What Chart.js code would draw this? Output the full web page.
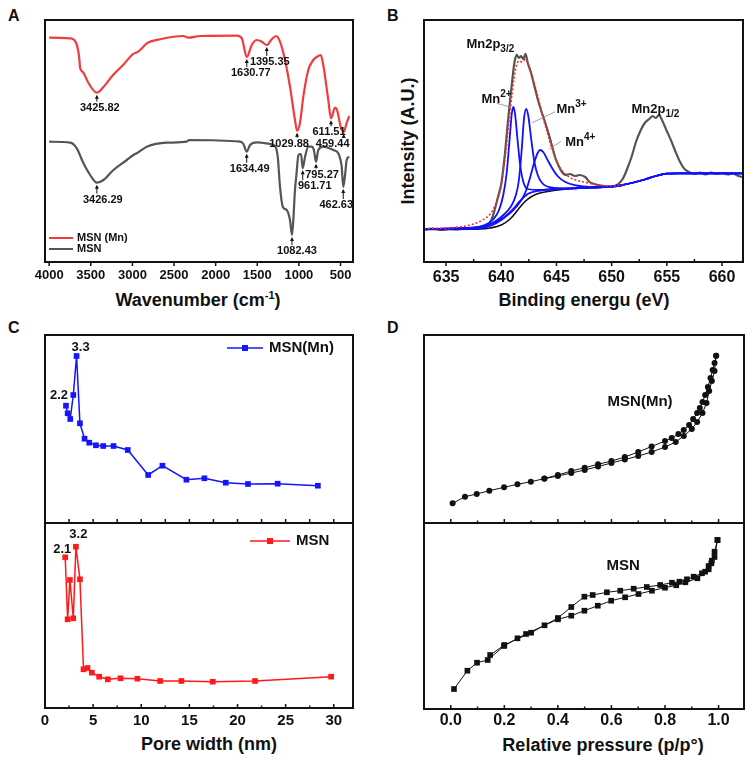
<!DOCTYPE html>
<html>
<head>
<meta charset="utf-8">
<title>MSN characterisation</title>
<script src="https://cdn.jsdelivr.net/npm/chart.js@4.4.1/dist/chart.umd.min.js"></script>
<style>
  body { margin: 0; width: 753px; height: 761px; background: #fff; position: relative; overflow: hidden;
         font-family: "Liberation Sans", Arial, sans-serif; color: #111; }
  canvas { position: absolute; }
  .lbl { position: absolute; font-weight: bold; white-space: nowrap; line-height: 1; }
  .mid { transform: translateX(-50%); }
</style>
</head>
<body>
<div class="lbl" style="left:8px;top:8px;font-size:16px">A</div>
<div class="lbl" style="left:387px;top:8px;font-size:16px">B</div>
<div class="lbl" style="left:8px;top:320px;font-size:16px">C</div>
<div class="lbl" style="left:387px;top:320px;font-size:16px">D</div>
<div class="lbl mid" style="left:198px;top:290px;font-size:18px">Wavenumber (cm<sup style="font-size:11px">-1</sup>)</div>
<div class="lbl mid" style="left:584px;top:291px;font-size:18px">Binding energu (eV)</div>
<div class="lbl" style="left:408px;top:141px;font-size:18px;transform:translate(-50%,-50%) rotate(-90deg)">Intensity (A.U.)</div>
<div class="lbl mid" style="left:209px;top:735px;font-size:18px">Pore width (nm)</div>
<div class="lbl mid" style="left:603px;top:736px;font-size:18px">Relative pressure (p/p°)</div>

<script>
// ---------- A: FTIR (transmittance, arbitrary units) ----------
var aRedWn = [4000,3748,3676,3640,3628,3595,3528,3427,3348,3232,3112,2992,2932,2907,2827,2667,2391,2328,2187,1746,1686,1626,1566,1506,1446,1386,1326,1275,1227,1167,1107,1047,1022,987,947,887,827,767,738,707,647,614,566,542,494,462,426,395];
var aRedT  = [224.3,223.7,219,205,194,190,179,169.3,175,187,197,208,210.3,212,218.7,222.7,226,224.3,226,226.3,223.7,205,217,222,220.3,217,222.7,226,220.3,202,175.3,142,131.3,139,165.3,192,202,206,207,197,162,143.7,154.3,152,134,130,139,146];
var aGrayWn = [4000,3748,3668,3588,3508,3427,3348,3228,3067,2988,2947,2827,2587,2347,2320,1707,1667,1627,1587,1506,1347,1287,1254,1227,1194,1146,1107,1083,1067,1047,1030,1005,975,954,926,887,846,820,794,767,707,587,527,486,467,445,426,395];
var aGrayT  = [120.3,119.3,113.7,98.7,87,79.3,82,92,102,107,108.7,115.3,119.3,120.3,122,120.3,118,110.3,117,119.7,118,116,105.3,75.3,55.3,52,42,27,42,72,87,107,108,93.7,105.3,115.3,115.3,112,100.3,112,115.3,112,108.7,95.3,75,87,102,105.3];
var aRedPeakIdx = [7, 21, 25, 32, 41, 45];
var aRedPeakText = ['3425.82', '1630.77', '1395.35', '1029.88', '611.51', '459.44'];
var aGrayPeakIdx = [5, 17, 27, 33, 38, 44];
var aGrayPeakText = ['3426.29', '1634.49', '1082.43', '961.71', '795.27', '462.63'];
var aTicks = [500, 1000, 1500, 2000, 2500, 3000, 3500, 4000];

// ---------- B: Mn 2p XPS ----------
var bRawE = [633.0,633.8,634.5,635.3,636.0,636.8,637.5,638.2,638.7,639.1,639.4,639.7,640.0,640.3,640.6,640.8,641.0,641.2,641.4,641.6,641.8,642.0,642.2,642.4,642.7,643.0,643.3,643.6,643.9,644.3,644.6,644.9,645.2,645.5,645.8,646.2,646.7,647.1,647.6,648.0,648.4,648.8,649.2,649.7,650.2,650.6,651.0,651.4,651.8,652.2,652.6,653.0,653.4,653.7,654.0,654.3,654.6,655.0,655.4,655.8,656.2,656.6,657.0,657.5,658.0,658.5,659.0,659.5,660.0,660.5,661.0,661.5,661.8];
var bRawI = [32,33.5,32,33,32.5,33.5,33,34,36,42,52,65,78,105,140,162,182,200,207,204,206,203,208,199,189,176,163,152,142,128,116,104,96,90,87,88,86,87,85,80,78,77,76,75,76,78,83,93,105,120,131,139,143,146,144,147,141,131,121,110,100,93,90,88,89.5,87.5,89.5,88,89,87.5,88.5,86,85];
var bFitE = [633,635,636.5,637.5,638.3,639,639.5,639.9,640.3,640.7,641.0,641.3,641.6,641.9,642.2,642.5,642.8,643.2,643.7,644.2,644.7,645.2,645.8,646.5,647.5,648.5,650,651];
var bFitI = [33.5,34,35.5,38,42,48,58,72,100,140,170,193,201,200,203,196,186,170,148,128,110,96,88,83,80,77.5,76,77];
var bMn2E = [633,637,638.5,639.3,639.8,640.2,640.5,640.75,640.95,641.1,641.25,641.45,641.7,642.0,642.4,643.5,645,647,650,651,652,653,654,655,656,661.8];
var bMn2I = [33,34,37,43,52,68,90,122,148,155,148,125,98,80,73,72,73,74,75.5,77,79.5,82.5,86,88.3,88.7,88.7];
var bMn3E = [633,637,638.5,639.5,640.3,640.9,641.3,641.6,641.85,642.05,642.25,642.45,642.7,643.0,643.3,643.7,644.5,646,648,650,651,652,653,654,655,656,661.8];
var bMn3I = [33,34,36,41,48,56,66,82,112,142,153,146,124,100,87,79,74.5,73.5,74.5,75.5,77,79.5,82.5,86,88.3,88.7,88.7];
var bMn4E = [633,637,638.5,639.5,640.3,641,641.7,642.2,642.6,643.0,643.3,643.5,643.8,644.2,644.6,645.1,645.8,646.8,648,650,651,652,653,654,655,656,661.8];
var bMn4I = [33,34,36,40,45,51,60,70,84,100,109,112,110,102,94,86,80,76.5,75,75.5,77,79.5,82.5,86,88.3,88.7,88.7];
var bBaseE = [633,638,639,640,641,641.7,642.4,643.5,645,647,650,651,652,653,654,655,656,661.8];
var bBaseI = [33,33.5,36,42,52,61,68,71.5,73,74,75.5,77,79.5,82.5,86,88.3,88.7,88.7];
var bShirE = [633,638,639,640,640.8,641.5,642.2,643,644.5,646.5,648.5,650];
var bShirI = [32.5,33,34,37,43,52,61,67,71,73.5,74.5,75];
var bMajor = [635, 640, 645, 650, 655, 660];
var bMinor = [637.5, 642.5, 647.5, 652.5, 657.5];

// ---------- C: pore size distribution ----------
var cMnW = [2.18,2.35,2.62,2.94,3.28,3.63,4.11,4.6,5.29,6.05,7.12,8.6,10.72,12.2,14.69,16.56,18.78,21.09,24.17,28.35];
var cMnV = [117.3,109.7,104,128,167,99.7,84.3,80.3,77.7,77,77,73,48,57.3,43.3,44.7,40.3,39,39.3,37.3];
var cW = [2.1,2.35,2.59,2.94,3.21,3.63,4.0,4.42,4.87,5.63,6.53,7.84,9.6,11.96,14.17,17.43,21.82,29.73];
var cV = [150.7,88.7,128,89.7,161.3,128.7,38.7,40,35.3,31.3,28.7,29.7,29.3,27,27,26.3,27,31.3];
var cMajor = [0, 5, 10, 15, 20, 25, 30];
var cMinor = [2.5, 7.5, 12.5, 17.5, 22.5, 27.5];

// ---------- D: N2 isotherms ----------
var dMnAdsP = [0.007,0.053,0.097,0.144,0.199,0.249,0.299,0.349,0.40,0.45,0.50,0.55,0.60,0.65,0.70,0.75,0.80,0.84,0.87,0.90,0.92,0.94,0.955,0.965,0.975,0.985,0.991];
var dMnAdsV = [19.7,26.3,29,32.3,35.7,38.7,41.3,44.3,47,50,53,56.5,60,63.5,67,71,76,81,87,94,101,110,120,132,142,152,167.3];
var dMnDesP = [0.991,0.985,0.978,0.97,0.96,0.95,0.94,0.93,0.92,0.905,0.89,0.87,0.85,0.825,0.80,0.75,0.70,0.65,0.60,0.55,0.50,0.45,0.40,0.35];
var dMnDesV = [167.3,160,153,145,136,128,121,115,110,104,98,93,89,85,82,76.5,71,66,62,58.7,55.3,52,48,44.5];
var dAdsP = [0.012,0.062,0.098,0.138,0.199,0.249,0.281,0.35,0.40,0.45,0.499,0.549,0.599,0.651,0.701,0.751,0.80,0.842,0.876,0.921,0.95,0.963,0.975,0.985,0.996];
var dAdsV = [20,38.3,46.3,49,63,70.7,75,83.7,89.7,93.3,98.3,103.3,108.3,111.7,115,118.3,121.3,123.7,126.7,130.7,137.3,139.7,148.3,157.3,169];
var dDesP = [0.996,0.985,0.973,0.963,0.938,0.907,0.882,0.854,0.826,0.782,0.732,0.683,0.633,0.583,0.53,0.499,0.45,0.40,0.30,0.20,0.147];
var dDesV = [169,152,145.7,143,135.7,132.3,129.7,127.3,126.3,124,122,120.3,118.3,116.7,114,112.3,102,91,76.3,64,54];
var dMajor = [0, 0.2, 0.4, 0.6, 0.8, 1.0];
var dMinor = [0.1, 0.3, 0.5, 0.7, 0.9];

// ---------- helpers ----------
var FONT = '"Liberation Sans", Arial, sans-serif';
var M = 20;

function pts(xs, ys) {
  return xs.map(function (x, i) { return { x: x, y: ys[i] }; });
}

function panel(box, strip, config) {
  var cv = document.createElement('canvas');
  var w = box.w + 2 * M, h = box.h + M + (strip || M);
  cv.width = w; cv.height = h;
  cv.style.left = (box.x - M) + 'px';
  cv.style.top = (box.y - M) + 'px';
  cv.style.width = w + 'px';
  cv.style.height = h + 'px';
  document.body.appendChild(cv);
  return new Chart(cv, config);
}

function opts(xs, ys, strip) {
  return {
    responsive: false, animation: false, devicePixelRatio: 1,
    layout: { padding: { left: M, right: M, top: M, bottom: strip ? 0 : M } },
    plugins: { legend: { display: false }, tooltip: { enabled: false } },
    scales: {
      x: Object.assign({
        type: 'linear', display: !!strip,
        grid: { display: false, drawTicks: false }, border: { display: false },
        afterFit: function (s) { s.height = strip; }
      }, xs),
      y: Object.assign({ type: 'linear', display: false }, ys)
    }
  };
}

// labelled ticks are fixed to the listed values
function labelled(values, size, pad, fmt) {
  return {
    afterBuildTicks: function (s) { s.ticks = values.map(function (v) { return { value: v }; }); },
    ticks: {
      autoSkip: false, maxRotation: 0, padding: pad, color: '#111',
      font: { family: FONT, size: size, weight: 'bold' },
      callback: fmt || function (v) { return String(v); }
    }
  };
}

// frame box plus tick marks; out=true draws below the bottom edge
function frame(marks) {
  return {
    id: 'frame',
    afterDraw: function (chart) {
      var a = chart.chartArea, ctx = chart.ctx, sx = chart.scales.x;
      ctx.save();
      ctx.strokeStyle = '#111';
      ctx.lineWidth = 1.5;
      marks.forEach(function (m) {
        m.at.forEach(function (v) {
          var x = sx.getPixelForValue(v);
          ctx.beginPath();
          ctx.moveTo(x, a.bottom);
          ctx.lineTo(x, a.bottom + (m.out ? m.len : -m.len));
          ctx.stroke();
        });
      });
      ctx.lineWidth = 2;
      ctx.strokeRect(a.left, a.top, a.right - a.left, a.bottom - a.top);
      ctx.restore();
    }
  };
}

function richText(ctx, x, y, parts, size) {
  var cx = x;
  parts.forEach(function (p) {
    var s = p[1] ? Math.round(size * 0.75) : size;
    ctx.font = 'bold ' + s + 'px ' + FONT;
    var dy = p[1] === 'sup' ? -size * 0.43 : (p[1] === 'sub' ? size * 0.3 : 0);
    ctx.fillText(p[0], cx, y + dy);
    cx += ctx.measureText(p[0]).width;
  });
}

// ---------- A ----------
var aRedOff = [[3, 15], [4, 16], [3, 17], [-8, 13], [-2, 14], [-11, 12]];
var aGrayOff = [[6, 17], [3, 17], [5, 16], [12, 18], [6, 13], [-7, 18]];

var aNotes = {
  id: 'aNotes',
  afterDatasetsDraw: function (chart) {
    var ctx = chart.ctx, a = chart.chartArea;
    ctx.save();
    ctx.fillStyle = '#111'; ctx.strokeStyle = '#111'; ctx.lineWidth = 1;
    function draw(ds, idx, texts, off) {
      var pts = chart.getDatasetMeta(ds).data;
      idx.forEach(function (k, j) {
        var p = pts[k], dx = off[j][0], dy = off[j][1];
        ctx.beginPath(); ctx.moveTo(p.x, p.y + 4); ctx.lineTo(p.x, p.y + Math.max(dy - 6, 5)); ctx.stroke();
        ctx.beginPath(); ctx.moveTo(p.x, p.y + 2); ctx.lineTo(p.x - 2, p.y + 6); ctx.lineTo(p.x + 2, p.y + 6); ctx.fill();
        ctx.font = 'bold 11px ' + FONT;
        ctx.textAlign = 'center'; ctx.textBaseline = 'middle';
        ctx.fillText(texts[j], p.x + dx, p.y + dy);
      });
    }
    draw(0, aRedPeakIdx, aRedPeakText, aRedOff);
    draw(1, aGrayPeakIdx, aGrayPeakText, aGrayOff);
    // legend
    var rows = [['MSN (Mn)', '#f03c3c', 24], ['MSN', '#555555', 13]];
    rows.forEach(function (r) {
      var y = a.bottom - r[2];
      ctx.strokeStyle = r[1]; ctx.lineWidth = 2;
      ctx.beginPath(); ctx.moveTo(a.left + 4, y); ctx.lineTo(a.left + 28, y); ctx.stroke();
      ctx.fillStyle = '#111'; ctx.font = 'bold 11px ' + FONT;
      ctx.textAlign = 'left'; ctx.textBaseline = 'middle';
      ctx.fillText(r[0], a.left + 32, y);
    });
    ctx.restore();
  }
};

panel({ x: 45, y: 20, w: 308, h: 242 }, 25, {
  type: 'scatter',
  data: {
    datasets: [
      { label: 'MSN (Mn)', data: pts(aRedWn, aRedT), showLine: true, borderColor: '#f03c3c', borderWidth: 2.2, pointRadius: 0, cubicInterpolationMode: 'monotone' },
      { label: 'MSN', data: pts(aGrayWn, aGrayT), showLine: true, borderColor: '#555555', borderWidth: 2.2, pointRadius: 0, cubicInterpolationMode: 'monotone' }
    ]
  },
  options: opts(Object.assign({ min: 350, max: 4050, reverse: true }, labelled(aTicks, 13, 6)), { min: 0, max: 242 }, 25),
  plugins: [frame([{ at: aTicks, len: 4, out: true }]), aNotes]
});

// ---------- B ----------
var bLabels = [
  { x: 636.84, y: 214, parts: [['Mn2p', ''], ['3/2', 'sub']] },
  { x: 638.2, y: 159, parts: [['Mn', ''], ['2+', 'sup']] },
  { x: 645.0, y: 149, parts: [['Mn', ''], ['3+', 'sup']] },
  { x: 645.8, y: 116, parts: [['Mn', ''], ['4+', 'sup']] },
  { x: 651.8, y: 149, parts: [['Mn2p', ''], ['1/2', 'sub']] }
];
var bLeaders = [[639.6, 158.7, 640.9, 154.7], [644.9, 150.3, 642.8, 139.3], [645.4, 120.3, 644.3, 113]];

var bNotes = {
  id: 'bNotes',
  afterDatasetsDraw: function (chart) {
    var ctx = chart.ctx, sx = chart.scales.x, sy = chart.scales.y;
    ctx.save();
    ctx.strokeStyle = '#888'; ctx.lineWidth = 0.8;
    bLeaders.forEach(function (l) {
      ctx.beginPath();
      ctx.moveTo(sx.getPixelForValue(l[0]), sy.getPixelForValue(l[1]));
      ctx.lineTo(sx.getPixelForValue(l[2]), sy.getPixelForValue(l[3]));
      ctx.stroke();
    });
    ctx.fillStyle = '#111'; ctx.textAlign = 'left'; ctx.textBaseline = 'alphabetic';
    bLabels.forEach(function (l) {
      richText(ctx, sx.getPixelForValue(l.x), sy.getPixelForValue(l.y), l.parts, 13);
    });
    ctx.restore();
  }
};

function blue(e, i) {
  return { data: pts(e, i), showLine: true, borderColor: '#1010ff', borderWidth: 1.8, pointRadius: 0, cubicInterpolationMode: 'monotone' };
}

panel({ x: 424, y: 20, w: 319, h: 242 }, 25, {
  type: 'scatter',
  data: {
    datasets: [
      { label: 'fit', data: pts(bFitE, bFitI), showLine: true, borderColor: '#ff2a2a', borderWidth: 1.6, borderDash: [2, 2], pointRadius: 0, cubicInterpolationMode: 'monotone' },
      blue(bMn2E, bMn2I), blue(bMn3E, bMn3I), blue(bMn4E, bMn4I), blue(bBaseE, bBaseI),
      { label: 'background', data: pts(bShirE, bShirI), showLine: true, borderColor: '#111', borderWidth: 1.6, pointRadius: 0, cubicInterpolationMode: 'monotone' },
      { label: 'raw', data: pts(bRawE, bRawI), showLine: true, borderColor: '#555555', borderWidth: 2.2, pointRadius: 0, tension: 0.3 }
    ]
  },
  options: opts(Object.assign({ min: 633, max: 661.9 }, labelled(bMajor, 16, 6)), { min: 0, max: 242 }, 25),
  plugins: [frame([{ at: bMajor, len: 4, out: true }, { at: bMinor, len: 3, out: false }]), bNotes]
});

// ---------- C ----------
function cPlugin(id, labels, legend) {
  return {
    id: id,
    afterDatasetsDraw: function (chart) {
      var ctx = chart.ctx, a = chart.chartArea, pts = chart.getDatasetMeta(0).data;
      ctx.save();
      ctx.fillStyle = '#111';
      ctx.font = 'bold 13px ' + FONT;
      ctx.textAlign = 'center'; ctx.textBaseline = 'middle';
      labels.forEach(function (l) {
        var p = pts[l.i];
        ctx.fillText(l.text, p.x + l.dx, p.y + l.dy);
      });
      var y = a.top + legend.dy, x0 = a.right - legend.dx;
      ctx.strokeStyle = legend.color; ctx.lineWidth = 1.5;
      ctx.beginPath(); ctx.moveTo(x0, y); ctx.lineTo(x0 + legend.len, y); ctx.stroke();
      ctx.fillStyle = legend.color;
      ctx.fillRect(x0 + legend.len / 2 - 3, y - 3, 6, 6);
      ctx.fillStyle = '#111';
      ctx.font = 'bold 15px ' + FONT;
      ctx.textAlign = 'left';
      ctx.fillText(legend.text, x0 + legend.len + 6, y);
      ctx.restore();
    }
  };
}

function cSeries(w, v, color) {
  return { data: pts(w, v), showLine: true, borderColor: color, backgroundColor: color, borderWidth: 1.5, pointStyle: 'rect', pointRadius: 4, pointBorderWidth: 0 };
}

panel({ x: 45, y: 335, w: 308, h: 188 }, 0, {
  type: 'scatter',
  data: { datasets: [cSeries(cMnW, cMnV, '#1414ff')] },
  options: opts({ min: 0, max: 32 }, { min: 0, max: 188 }, 0),
  plugins: [frame([{ at: cMajor.concat(cMinor), len: 4, out: false }]),
    cPlugin('cTop', [{ i: 4, text: '3.3', dx: 4, dy: -9 }, { i: 0, text: '2.2', dx: -7, dy: -10 }],
      { dx: 126, dy: 13, len: 36, color: '#1414ff', text: 'MSN(Mn)' })]
});

panel({ x: 45, y: 523, w: 308, h: 185 }, 25, {
  type: 'scatter',
  data: { datasets: [cSeries(cW, cV, '#ff1a1a')] },
  options: opts(Object.assign({ min: 0, max: 32 }, labelled(cMajor, 15, 4)), { min: 0, max: 185 }, 25),
  plugins: [frame([{ at: cMajor, len: 4, out: false }, { at: cMinor, len: 2.5, out: false }]),
    cPlugin('cBot', [{ i: 0, text: '2.1', dx: -3, dy: -8 }, { i: 4, text: '3.2', dx: 2.5, dy: -12 }],
      { dx: 103, dy: 18, len: 40, color: '#ff1a1a', text: 'MSN' })]
});

// ---------- D ----------
function dPlugin(id, text, at) {
  return {
    id: id,
    afterDatasetsDraw: function (chart) {
      var ctx = chart.ctx;
      ctx.save();
      ctx.fillStyle = '#111';
      ctx.font = 'bold 15px ' + FONT;
      ctx.textAlign = 'center'; ctx.textBaseline = 'middle';
      ctx.fillText(text, chart.scales.x.getPixelForValue(at[0]), chart.scales.y.getPixelForValue(at[1]));
      ctx.restore();
    }
  };
}

function dSeries(p, v, style, r) {
  return { data: pts(p, v), showLine: true, borderColor: '#111', backgroundColor: '#111', borderWidth: 1, pointStyle: style, pointRadius: r, pointBorderWidth: 0 };
}

var dFmt = function (v) { return v.toFixed(1); };

panel({ x: 424, y: 335, w: 320, h: 188 }, 0, {
  type: 'scatter',
  data: { datasets: [dSeries(dMnAdsP, dMnAdsV, 'circle', 3), dSeries(dMnDesP, dMnDesV, 'circle', 3)] },
  options: opts({ min: -0.1, max: 1.095 }, { min: 0, max: 188 }, 0),
  plugins: [frame([{ at: dMajor, len: 4, out: false }, { at: dMinor, len: 2.5, out: false }]), dPlugin('dTop', 'MSN(Mn)', [0.707, 121])]
});

panel({ x: 424, y: 523, w: 320, h: 186 }, 25, {
  type: 'scatter',
  data: { datasets: [dSeries(dAdsP, dAdsV, 'rect', 4), dSeries(dDesP, dDesV, 'rect', 4)] },
  options: opts(Object.assign({ min: -0.1, max: 1.095 }, labelled(dMajor, 16, 2, dFmt)), { min: 0, max: 186 }, 25),
  plugins: [frame([{ at: dMajor, len: 4, out: false }, { at: dMinor, len: 2.5, out: false }]), dPlugin('dBot', 'MSN', [0.644, 143])]
});
</script>
</body>
</html>
